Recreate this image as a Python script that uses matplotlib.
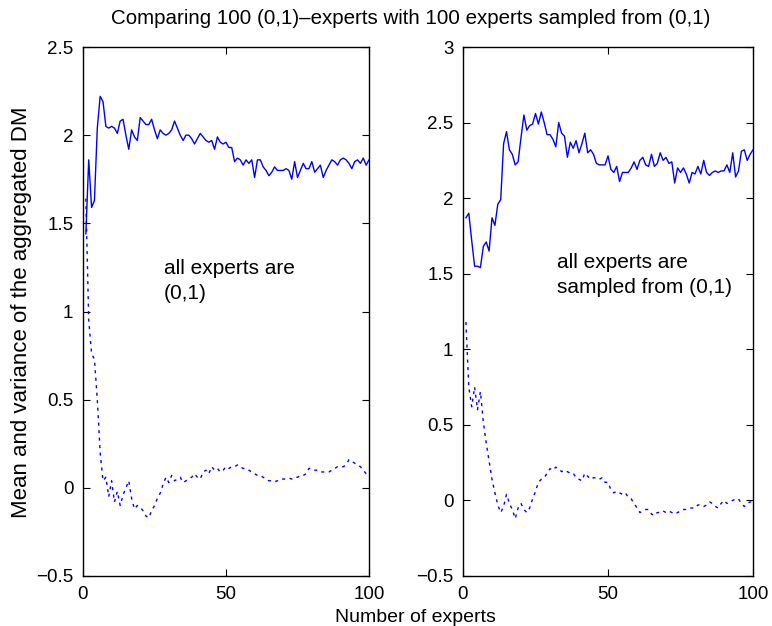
import numpy as np
import matplotlib.pyplot as plt
from matplotlib.ticker import FuncFormatter, MultipleLocator

plt.rcParams["font.family"] = ["Liberation Sans", "DejaVu Sans"]
plt.rcParams["font.size"] = 13.5

# --- data ---
n_experts = np.arange(1, 101)

mean_fixed = [
    1.44, 1.86, 1.59, 1.63, 2.04, 2.22, 2.19, 2.05, 2.04, 2.05,
    2.04, 2.01, 2.08, 2.09, 2.00, 1.92, 2.03, 1.99, 1.97, 2.10,
    2.08, 2.06, 2.06, 2.09, 2.03, 1.98, 2.03, 2.01, 2.00, 2.01,
    2.03, 2.08, 2.04, 2.00, 1.97, 2.00, 2.00, 1.98, 1.95, 1.98,
    2.01, 1.99, 1.97, 1.96, 1.97, 1.92, 1.99, 1.96, 1.95, 1.96,
    1.93, 1.93, 1.85, 1.87, 1.86, 1.83, 1.86, 1.84, 1.86, 1.76,
    1.86, 1.86, 1.82, 1.80, 1.77, 1.79, 1.82, 1.80, 1.80, 1.80,
    1.81, 1.80, 1.75, 1.85, 1.76, 1.80, 1.84, 1.81, 1.81, 1.85,
    1.79, 1.81, 1.83, 1.76, 1.80, 1.83, 1.86, 1.85, 1.83, 1.86,
    1.87, 1.86, 1.84, 1.81, 1.85, 1.86, 1.84, 1.87, 1.83, 1.86,
]
var_fixed = [
    1.64, 0.95, 0.76, 0.73, 0.50, 0.20, 0.04, 0.06, -0.05, 0.04,
    -0.08, -0.02, -0.10, -0.04, 0.00, 0.04, -0.06, -0.12, -0.10, -0.11,
    -0.13, -0.16, -0.17, -0.13, -0.10, -0.06, -0.03, 0.02, 0.06, 0.03,
    0.07, 0.04, 0.05, 0.06, 0.03, 0.04, 0.05, 0.06, 0.08, 0.06,
    0.05, 0.09, 0.10, 0.08, 0.12, 0.10, 0.11, 0.09, 0.10, 0.12,
    0.11, 0.12, 0.12, 0.13, 0.12, 0.11, 0.11, 0.10, 0.09, 0.08,
    0.07, 0.07, 0.06, 0.05, 0.04, 0.04, 0.035, 0.04, 0.05, 0.05,
    0.05, 0.055, 0.05, 0.06, 0.06, 0.07, 0.07, 0.08, 0.11, 0.11,
    0.10, 0.10, 0.09, 0.09, 0.09, 0.09, 0.10, 0.11, 0.12, 0.12,
    0.12, 0.13, 0.16, 0.15, 0.14, 0.13, 0.12, 0.10, 0.08, 0.07,
]
mean_sampled = [
    1.87, 1.90, 1.72, 1.55, 1.55, 1.54, 1.68, 1.71, 1.65, 1.87,
    1.82, 1.96, 1.99, 2.36, 2.44, 2.32, 2.29, 2.22, 2.24, 2.40,
    2.55, 2.45, 2.48, 2.49, 2.56, 2.49, 2.57, 2.50, 2.42, 2.42,
    2.39, 2.34, 2.50, 2.43, 2.41, 2.27, 2.37, 2.33, 2.38, 2.30,
    2.36, 2.43, 2.30, 2.32, 2.29, 2.23, 2.22, 2.22, 2.22, 2.28,
    2.19, 2.17, 2.21, 2.11, 2.17, 2.17, 2.17, 2.20, 2.24, 2.19,
    2.25, 2.27, 2.22, 2.21, 2.29, 2.21, 2.23, 2.30, 2.25, 2.27,
    2.23, 2.24, 2.10, 2.20, 2.17, 2.20, 2.16, 2.10, 2.17, 2.16,
    2.21, 2.16, 2.25, 2.17, 2.15, 2.17, 2.18, 2.17, 2.18, 2.18,
    2.22, 2.17, 2.30, 2.14, 2.18, 2.31, 2.32, 2.25, 2.29, 2.32,
]
var_sampled = [
    1.18, 0.75, 0.62, 0.75, 0.60, 0.72, 0.52, 0.38, 0.26, 0.14,
    0.05, -0.03, -0.08, -0.04, 0.04, -0.02, -0.06, -0.12, -0.05, -0.02,
    -0.06, -0.08, -0.05, 0.01, 0.06, 0.12, 0.14, 0.15, 0.18, 0.21,
    0.20, 0.22, 0.21, 0.19, 0.20, 0.19, 0.18, 0.18, 0.15, 0.14,
    0.13, 0.18, 0.16, 0.14, 0.15, 0.15, 0.14, 0.15, 0.12, 0.12,
    0.07, 0.05, 0.06, 0.05, 0.04, 0.05, 0.02, 0.01, -0.02, -0.05,
    -0.08, -0.07, -0.06, -0.06, -0.09, -0.10, -0.08, -0.08, -0.07, -0.08,
    -0.07, -0.08, -0.09, -0.08, -0.07, -0.06, -0.06, -0.05, -0.05, -0.05,
    -0.03, -0.03, -0.04, -0.03, -0.01, -0.02, -0.04, -0.05, -0.02, 0.00,
    -0.02, -0.01, 0.00, 0.01, 0.01, -0.02, -0.04, -0.02, -0.01, -0.01,
]

panels = [
    (mean_fixed, var_fixed, (-0.5, 2.5), "all experts are\n(0,1)", (28.3, 1.30)),
    (mean_sampled, var_sampled, (-0.5, 3.0), "all experts are\nsampled from (0,1)", (32.4, 1.64)),
]


def tick_fmt(v, pos):
    s = "%g" % v
    return s.replace("-", "\u2212")


W, H = 772, 626
fig = plt.figure(figsize=(W / 100, H / 100), dpi=100)
boxes = [(83, 47, 286, 529), (463, 47, 290, 529)]

for (mean, var, ylim, note, note_xy), (x0, y0, w, h) in zip(panels, boxes):
    ax = fig.add_axes([x0 / W, 1 - (y0 + h) / H, w / W, h / H])
    ax.plot(n_experts, mean, color="blue", lw=1.0)
    ax.plot(n_experts, var, color="blue", lw=1.0, linestyle=(0, (2.2, 3.2)))
    ax.set_xlim(0, 100)
    ax.set_ylim(*ylim)
    ax.xaxis.set_major_locator(MultipleLocator(50))
    ax.yaxis.set_major_locator(MultipleLocator(0.5))
    ax.yaxis.set_major_formatter(FuncFormatter(tick_fmt))
    ax.tick_params(direction="in", length=5, width=0.8, top=True, right=True, pad=7)
    for s in ax.spines.values():
        s.set_linewidth(1.0)
    ax.text(note_xy[0], note_xy[1], note, ha="left", va="top",
            fontsize=15, linespacing=1.45)

fig.text(411 / W, 1 - 19 / H, "Comparing 100 (0,1)\u2013experts with 100 experts sampled from (0,1)",
         ha="center", va="center", fontsize=14.8)
fig.text(415 / W, 1 - 618 / H, "Number of experts", ha="center", va="center", fontsize=14)
fig.text(22 / W, 1 - 312 / H, "Mean and variance of the aggregated DM",
         ha="center", va="center", rotation=90, fontsize=16)

fig.savefig("out.png", dpi=100)
